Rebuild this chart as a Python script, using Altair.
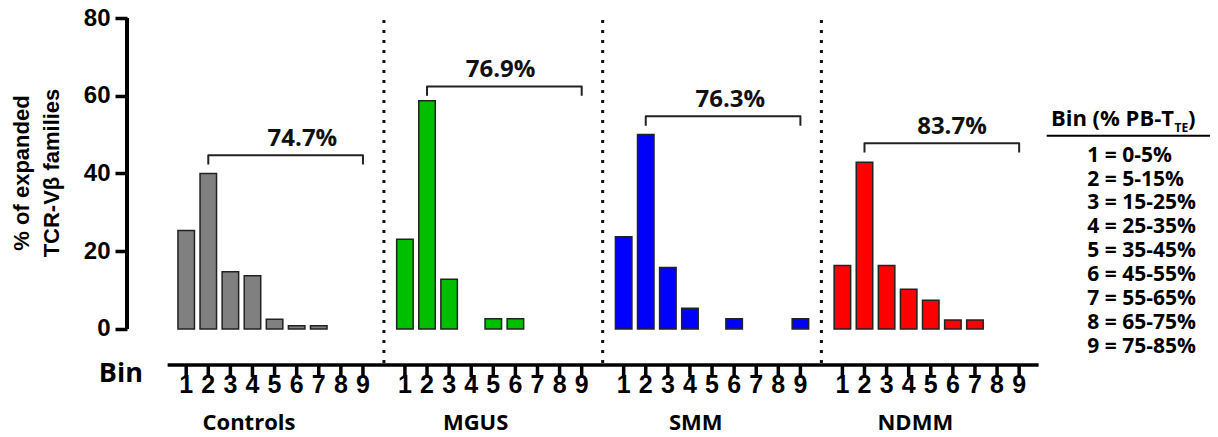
import altair as alt
import pandas as pd

# ---------------- data ----------------
groups = ["Controls", "MGUS", "SMM", "NDMM"]
colors = ["#808080", "#00BF00", "#0000FF", "#FF0000"]
bins = [1, 2, 3, 4, 5, 6, 7, 8, 9]
controls = [25.3, 40.0, 14.7, 13.7, 2.5, 0.8, 0.8, 0.0, 0.0]
mgus = [23.1, 58.7, 12.8, 0.0, 2.6, 2.6, 0.0, 0.0, 0.0]
smm = [23.7, 50.0, 15.8, 5.3, 0.0, 2.6, 0.0, 0.0, 2.6]
ndmm = [16.3, 42.9, 16.3, 10.2, 7.4, 2.3, 2.3, 0.0, 0.0]
series = [controls, mgus, smm, ndmm]
pct_labels = ["74.7%", "76.9%", "76.3%", "83.7%"]
bracket_level = [44.7, 62.4, 54.7, 47.8]
label_bin = [6.26, 5.33, 5.83, 5.96]
group_label_bin = [3.84, 4.2, 4.26, 4.3]
y_ticks = [0, 20, 40, 60, 80]
legend_title = "Bin (% PB-T"
legend_sub = "TE"
legend_lines = ["1 = 0-5%", "2 = 5-15%", "3 = 15-25%", "4 = 25-35%", "5 = 35-45%",
                "6 = 45-55%", "7 = 55-65%", "8 = 65-75%", "9 = 75-85%"]

# ---------------- layout helpers ----------------
GAP = 9.9          # distance between group starts, in bin units
BOLD = "bold"
ARIAL = "Liberation Sans"
CAL = "Open Sans"

rows = []
for gi, (g, vals) in enumerate(zip(groups, series)):
    for b, v in zip(bins, vals):
        rows.append({"group": g, "bin": b, "value": v, "pos": gi * GAP + (b - 1)})
df = pd.DataFrame(rows)
bars_df = df[df["value"] > 0]

XS = alt.Scale(domain=[-2.453, 46.112], nice=False, zero=False)
YS = alt.Scale(domain=[-26, 80], nice=False, zero=False)
YA = alt.Axis(values=y_ticks, title=None, domain=False, grid=False, tickSize=12,
              tickWidth=3.5, tickColor="black", labelFont=ARIAL, labelFontSize=24,
              labelFontWeight=BOLD, labelColor="black", labelPadding=5)


def X(f):
    return alt.X(f, type="quantitative", scale=XS, axis=None)


def Y(f):
    return alt.Y(f, type="quantitative", scale=YS, axis=YA)


dummy = pd.DataFrame({"a": [0]})

bars = alt.Chart(bars_df).mark_bar(size=16.5, stroke="#222222", strokeWidth=1.5).encode(
    x=X("pos"),
    y=Y("value"),
    y2=alt.datum(0),
    color=alt.Color("group:N", scale=alt.Scale(domain=groups, range=colors), legend=None),
)

yline = alt.Chart(pd.DataFrame({"y0": [y_ticks[0]], "y1": [y_ticks[-1]]})).mark_rule(
    strokeWidth=4, color="black").encode(x=alt.value(0), y=Y("y0"), y2="y1:Q")

sep_df = pd.DataFrame({"pos": [gi * GAP - 0.95 for gi in range(1, len(groups))]})
seps = alt.Chart(sep_df).mark_rule(strokeDash=[3, 7], strokeWidth=3, color="#111111").encode(
    x=X("pos"), y=alt.value(2), y2=alt.value(347))

xline_df = pd.DataFrame({"x0": [df["pos"].min() - 0.84], "x1": [df["pos"].max() + 0.88]})
xline = alt.Chart(xline_df).mark_rule(strokeWidth=3.5, color="black").encode(
    x=X("x0"), x2="x1:Q", y=alt.value(347))

xticks = alt.Chart(df).mark_rule(strokeWidth=3.5, color="black").encode(
    x=X("pos"), y=alt.value(347), y2=alt.value(359))

xlabels = alt.Chart(df).mark_text(font=ARIAL, fontSize=25, fontWeight=BOLD, color="black",
                                  baseline="alphabetic").encode(
    x=X("pos"), y=alt.value(375), text="bin:N")

glab_df = pd.DataFrame({"group": groups,
                        "pos": [gi * GAP + gb - 1 for gi, gb in enumerate(group_label_bin)]})
glabels = alt.Chart(glab_df).mark_text(font=CAL, fontSize=22, fontWeight=BOLD, color="black",
                                       baseline="alphabetic").encode(
    x=X("pos"), y=alt.value(412), text="group:N")

br = []
for gi, (g, lvl) in enumerate(zip(groups, bracket_level)):
    x_a = gi * GAP + 1
    x_b = gi * GAP + 8
    for k, (bx, by) in enumerate([(x_a, lvl - 2.4), (x_a, lvl), (x_b, lvl), (x_b, lvl - 2.4)]):
        br.append({"group": g, "ord": k, "bx": bx, "by": by})
brackets = alt.Chart(pd.DataFrame(br)).mark_line(color="#222222", strokeWidth=2,
                                                   strokeJoin="round").encode(
    x=X("bx"), y=Y("by"), detail="group:N", order="ord:Q")

pl_df = pd.DataFrame({"label": pct_labels,
                      "lx": [gi * GAP + lb - 1 for gi, lb in enumerate(label_bin)],
                      "ly": [l + 2.3 for l in bracket_level]})
pct = alt.Chart(pl_df).mark_text(font=CAL, fontSize=24, fontWeight=BOLD, color="#111111",
                                 baseline="alphabetic").encode(
    x=X("lx"), y=Y("ly"), text="label:N")

binlab = alt.Chart(dummy).mark_text(font=CAL, fontSize=27, fontWeight=BOLD, color="black",
                                    align="right", baseline="alphabetic").encode(
    x=alt.value(16), y=alt.value(364), text=alt.value("Bin"))

ytitle1 = alt.Chart(dummy).mark_text(font=ARIAL, fontSize=22, fontWeight=BOLD, color="black",
                                     angle=270, baseline="alphabetic").encode(
    x=alt.value(-98.5), y=alt.value(155), text=alt.value("% of expanded"))
ytitle2 = alt.Chart(dummy).mark_text(font=ARIAL, fontSize=22, fontWeight=BOLD, color="black",
                                     angle=270, baseline="alphabetic").encode(
    x=alt.value(-68), y=alt.value(155), text=alt.value("TCR-Vβ families"))

lt_main = alt.Chart(dummy).mark_text(font=CAL, fontSize=22, fontWeight=BOLD, color="black",
                                     align="right", baseline="alphabetic").encode(
    x=alt.value(1047), y=alt.value(107.7), text=alt.value(legend_title))
lt_sub = alt.Chart(dummy).mark_text(font=CAL, fontSize=12, fontWeight=BOLD, color="black",
                                    align="left", baseline="alphabetic").encode(
    x=alt.value(1047.5), y=alt.value(113.5), text=alt.value(legend_sub))
lt_close = alt.Chart(dummy).mark_text(font=CAL, fontSize=22, fontWeight=BOLD, color="black",
                                      align="left", baseline="alphabetic").encode(
    x=alt.value(1061), y=alt.value(107.7), text=alt.value(")"))
underline = alt.Chart(dummy).mark_rule(strokeWidth=2, color="black").encode(
    x=alt.value(919.7), x2=alt.value(1083), y=alt.value(117.7))
legend_body = alt.Chart(dummy).mark_text(font=CAL, fontSize=21, fontWeight=BOLD, color="black",
                                         align="left", baseline="alphabetic",
                                         lineBreak="\n", lineHeight=23.9).encode(
    x=alt.value(960.3), y=alt.value(143.7), text=alt.value("\n".join(legend_lines)))

chart = alt.layer(
    seps, bars, yline, xline, xticks, xlabels, glabels, brackets, pct, binlab,
    ytitle1, ytitle2, lt_main, lt_sub, lt_close, underline, legend_body,
).properties(
    width=1083, height=412,
    padding={"left": 119, "top": 10, "right": 0, "bottom": 5},
    autosize=alt.AutoSizeParams(type="none"),
).configure_view(stroke=None)

chart.save("out.html", embed_options={"renderer": "svg", "actions": False})
